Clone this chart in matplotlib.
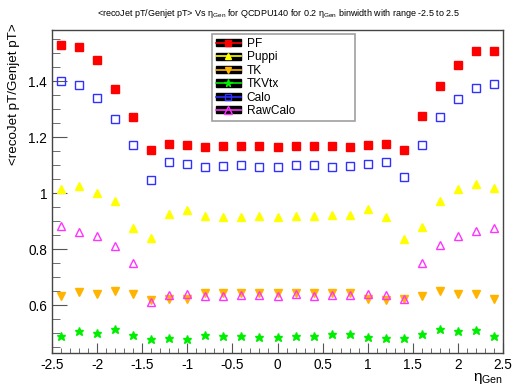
"""Mean jet response <recoJet pT / Genjet pT> versus eta_Gen, one series per
jet collection (QCD PU140 sample, 0.2 eta bins over -2.5..2.5)."""

import matplotlib

matplotlib.use("Agg")
import matplotlib.pyplot as plt
from matplotlib.lines import Line2D
from matplotlib.patches import Patch
from matplotlib.legend_handler import HandlerTuple
from matplotlib.ticker import MultipleLocator, FormatStrFormatter

plt.rcParams["font.family"] = ["Liberation Sans", "DejaVu Sans"]
plt.rcParams["mathtext.fontset"] = "custom"
plt.rcParams["mathtext.rm"] = "Liberation Sans"
plt.rcParams["mathtext.it"] = "Liberation Sans"

# bin centres in eta_Gen
eta = [-2.4, -2.2, -2.0, -1.8, -1.6, -1.4, -1.2, -1.0, -0.8, -0.6, -0.4, -0.2, 0.0,
       0.2, 0.4, 0.6, 0.8, 1.0, 1.2, 1.4, 1.6, 1.8, 2.0, 2.2, 2.4]

pf = [1.531, 1.522, 1.477, 1.371, 1.274, 1.154, 1.177, 1.172, 1.165, 1.170, 1.168,
      1.168, 1.165, 1.169, 1.168, 1.170, 1.165, 1.172, 1.177, 1.154, 1.277, 1.384,
      1.459, 1.508, 1.509]
puppi = [1.014, 1.025, 1.002, 0.971, 0.877, 0.841, 0.925, 0.942, 0.918, 0.915, 0.915,
         0.919, 0.915, 0.920, 0.918, 0.922, 0.921, 0.944, 0.915, 0.838, 0.881, 0.971,
         1.014, 1.034, 1.020]
tk = [0.633, 0.647, 0.641, 0.652, 0.640, 0.619, 0.624, 0.624, 0.643, 0.645, 0.644,
      0.644, 0.645, 0.645, 0.645, 0.645, 0.645, 0.621, 0.619, 0.621, 0.633, 0.652,
      0.640, 0.640, 0.621]
tkvtx = [0.490, 0.508, 0.501, 0.516, 0.495, 0.479, 0.484, 0.479, 0.495, 0.491, 0.491,
         0.487, 0.488, 0.490, 0.491, 0.497, 0.497, 0.487, 0.482, 0.482, 0.497, 0.514,
         0.507, 0.512, 0.490]
calo = [1.402, 1.386, 1.340, 1.264, 1.171, 1.047, 1.111, 1.106, 1.094, 1.096, 1.100,
        1.095, 1.093, 1.100, 1.100, 1.095, 1.096, 1.104, 1.111, 1.058, 1.171, 1.273,
        1.338, 1.377, 1.391]
rawcalo = [0.883, 0.861, 0.847, 0.811, 0.751, 0.613, 0.637, 0.639, 0.633, 0.633, 0.637,
           0.637, 0.635, 0.639, 0.633, 0.637, 0.636, 0.639, 0.637, 0.622, 0.751, 0.816,
           0.849, 0.866, 0.876]

# name, values, colour, marker, filled, marker size
SERIES = [
    ("PF", pf, "#ff0000", "s", True, 5.2),
    ("Puppi", puppi, "#ffff00", "^", True, 5.5),
    ("TK", tk, "#ffb400", "v", True, 5.5),
    ("TKVtx", tkvtx, "#00ee00", "*", True, 6.3),
    ("Calo", calo, "#3030ff", "s", False, 5.8),
    ("RawCalo", rawcalo, "#ff33ff", "^", False, 6.2),
]

fig = plt.figure(figsize=(5.14, 3.92), dpi=100)
ax = fig.add_axes([0.1012, 0.1003, 0.8774, 0.8244])

handles = []
for name, vals, col, mk, filled, ms in SERIES:
    face = col if filled else "none"
    ax.plot(eta, vals, ls="none", marker=mk, ms=ms, mfc=face, mec=col,
            mew=1.0, label=name)
    handles.append((Patch(facecolor="black", edgecolor="black"),
                    Line2D([], [], color=col, lw=1.2, marker=mk, ms=ms * 0.85,
                           mfc=face, mec=col)))

ax.set_xlim(-2.5, 2.5)
ax.set_ylim(0.431, 1.585)

ax.xaxis.set_major_locator(MultipleLocator(0.5))
ax.xaxis.set_minor_locator(MultipleLocator(0.1))
ax.yaxis.set_major_locator(MultipleLocator(0.2))
ax.yaxis.set_minor_locator(MultipleLocator(0.05))
ax.xaxis.set_major_formatter(FormatStrFormatter("%g"))
ax.yaxis.set_major_formatter(FormatStrFormatter("%g"))
ax.tick_params(which="both", direction="in", top=False, right=False,
               labelsize=9.8, color="#555555")
ax.tick_params(axis="x", which="major", length=7, pad=4)
ax.tick_params(axis="x", which="minor", length=3.5)
ax.tick_params(axis="y", which="major", length=11, pad=3.5)
ax.tick_params(axis="y", which="minor", length=5.5)
for sp in ax.spines.values():
    sp.set_color("#444444")
    sp.set_linewidth(1.0)

ax.set_xlabel(r"$\mathrm{η}_{\mathrm{Gen}}$", loc="right", fontsize=11)
ax.set_ylabel("<recoJet pT/Genjet pT>", loc="top", fontsize=9.6)
ax.xaxis.set_label_coords(1.0, -0.058)
ax.yaxis.set_label_coords(-0.072, 1.02)

fig.text(0.542, 0.965,
         r"<recoJet pT/Genjet pT> Vs $\mathrm{η}_{\mathrm{Gen}}$ for QCDPU140 for 0.2 "
         r"$\mathrm{η}_{\mathrm{Gen}}$ binwidth with range -2.5 to 2.5",
         ha="center", va="center", fontsize=6.5)

leg = ax.legend(handles, [s[0] for s in SERIES],
                handler_map={tuple: HandlerTuple(ndivide=1, pad=0)},
                loc="upper left", bbox_to_anchor=(0.355, 0.714, 0.317, 0.271),
                mode="expand", fontsize=8.6, handlelength=2.1, handleheight=0.55,
                handletextpad=0.5, labelspacing=0.12, borderpad=0.3,
                borderaxespad=0.0, fancybox=False, frameon=True)
leg.get_frame().set_edgecolor("#888888")
leg.get_frame().set_linewidth(1.2)

fig.savefig("out.png", dpi=100)
